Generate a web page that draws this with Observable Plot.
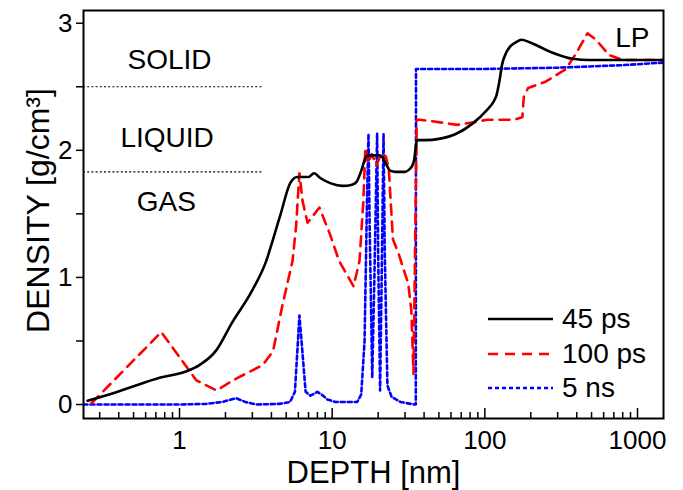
<!DOCTYPE html>
<html><head><meta charset="utf-8">
<script src="https://cdn.jsdelivr.net/npm/d3@7"></script>
<script src="https://cdn.jsdelivr.net/npm/@observablehq/plot@0.6"></script>
<style>
body{margin:0;background:#fff;font-family:"Liberation Sans",Arial,sans-serif}
#wrap{position:relative;width:683px;height:490px}
#legend{position:absolute;left:488px;top:302px;font-size:28px;color:#000}
#legend .row{display:flex;align-items:center;height:34.5px}
#legend svg{margin-right:9px}
</style></head><body><div id="wrap"></div>
<script>
// ---- data ----
const depth45 = [0.25,0.35,0.49,0.74,1.1,1.35,1.75,2.2,3.0,3.7,4.1,4.6,5.3,5.9,6.5,7.0,7.6,8.4,9.8,11.7,13.5,14.4,15.3,15.8,16.5,17.2,20.4,21.5,22.6,24,26,30,32,33.5,34.5,35.5,36,41,50,65,83,102,115,119,124,130,137,145,160,174,205,275,375,485,1480];
const density45 = [0.03,0.08,0.14,0.21,0.26,0.31,0.43,0.64,0.9,1.13,1.3,1.5,1.74,1.79,1.79,1.79,1.82,1.78,1.74,1.72,1.73,1.75,1.82,1.87,1.94,1.96,1.96,1.94,1.89,1.84,1.83,1.83,1.85,1.88,1.93,2.05,2.08,2.08,2.09,2.13,2.21,2.31,2.39,2.43,2.53,2.68,2.76,2.81,2.85,2.87,2.84,2.77,2.72,2.71,2.71];

const depth100 = [0.265,0.76,1.29,1.75,2.23,3.5,4.1,4.7,5.5,5.8,6.1,6.4,6.9,8.25,9.6,11.1,12.5,13.8,15.1,16.0,16.5,17.2,18.2,19.5,21.0,22.5,23.5,25,27,31.5,33,34.1,35.8,37.7,51,66,84,103,126,154,176,180,192,250,340,395,470,535,650,800,1480];
const density100 = [0.01,0.57,0.19,0.11,0.19,0.31,0.42,0.77,1.13,1.4,1.82,1.6,1.43,1.55,1.35,1.13,1.02,0.93,1.13,1.6,2.02,1.9,1.97,1.88,1.98,1.95,1.85,1.3,1.2,0.95,0.74,0.24,2.24,2.24,2.22,2.2,2.22,2.24,2.24,2.24,2.26,2.42,2.49,2.54,2.64,2.76,2.92,2.87,2.75,2.71,2.71];

const depth5ns = [0.235,0.5,1.0,1.5,1.9,2.35,2.7,3.2,4.5,5.3,5.7,6.0,6.1,6.3,6.7,7.2,8.0,8.5,9.3,10.5,14.6,15.5,16.3,16.9,17.3,17.6,18.3,18.9,19.7,20.0,20.6,21.1,21.7,22.1,23.0,24.5,28,34.5,35.3,35.4,100,300,800,1480];
const density5ns = [0,0,0,0.005,0.02,0.05,0.02,0,0.005,0.02,0.1,0.55,0.7,0.5,0.1,0.07,0.1,0.08,0.04,0.02,0.02,0.08,0.5,1.6,2.13,1.4,0.21,1.0,2.13,1.2,0.11,1.0,2.13,1.2,0.15,0.06,0.02,0,0,2.64,2.64,2.65,2.67,2.69];

const phaseNames = ["SOLID","LIQUID","GAS"];
const phaseNameDepth = [0.86,0.83,0.82];
const phaseNameDensity = [2.71,2.10,1.59];
const phaseBoundaries = [2.5,1.83];
const boundaryEnd = 3.5;
const cornerLabel = {text:"LP", depth:926, density:2.88};

const xTicks = [1,10,100,1000];
const xMinor = [0.3,0.4,0.5,0.6,0.7,0.8,0.9,2,3,4,5,6,7,8,9,20,30,40,50,60,70,80,90,200,300,400,500,600,700,800,900];
const yTicks = [0,0.5,1,1.5,2,2.5,3];

const seriesNames = ["45 ps","100 ps","5 ns"];
const seriesColors = ["#000000","#ff0000","#0000ff"];
const seriesDash = [null,"10,7","4,3"];

const toRows = (xs, ys) => xs.map((d,i)=>({depth:d, density:ys[i]}));
const s45 = toRows(depth45, density45);
const s100 = toRows(depth100, density100);
const s5 = toRows(depth5ns, density5ns);
const phases = phaseNames.map((n,i)=>({name:n, depth:phaseNameDepth[i], density:phaseNameDensity[i]}));

const chart = Plot.plot({
  width: 683, height: 490,
  marginLeft: 83, marginRight: 20, marginTop: 10, marginBottom: 72,
  style: {fontFamily: "'Liberation Sans', Arial, sans-serif", color: "#000", background: "#fff"},
  x: {type: "log", domain: [0.235, 1480]},
  y: {domain: [-0.11, 3.1]},
  marks: [
    Plot.ruleY(phaseBoundaries, {y: d=>d, x1: 0.235, x2: boundaryEnd, stroke: "#000", strokeWidth: 1.2, strokeDasharray: "2,2.2"}),
    Plot.text(phases, {x: "depth", y: "density", text: "name", fontSize: 28, lineAnchor: "middle", fill: "#000"}),
    Plot.text([cornerLabel], {x: "depth", y: "density", text: "text", fontSize: 28, lineAnchor: "middle", fill: "#000"}),
    Plot.line(s5, {x: "depth", y: "density", stroke: seriesColors[2], strokeWidth: 2.6, strokeDasharray: seriesDash[2], clip: true}),
    Plot.line(s100, {x: "depth", y: "density", stroke: seriesColors[1], strokeWidth: 2.6, strokeDasharray: seriesDash[1], clip: true}),
    Plot.line(s45, {x: "depth", y: "density", stroke: seriesColors[0], strokeWidth: 2.6, curve: "monotone-x", clip: true}),
    Plot.axisY({ticks: yTicks, tickFormat: d => Number.isInteger(d) ? String(d) : "", tickSize: 7, tickPadding: 4, fontSize: 26, label: null, strokeWidth: 1.5}),
    Plot.axisX({ticks: xTicks, tickFormat: d => String(d), tickSize: 0, tickPadding: 12, fontSize: 26, label: null}),
    Plot.axisX({ticks: xTicks, tickSize: 10, dy: -10, text: null, label: null, strokeWidth: 1.5}),
    Plot.axisX({ticks: xMinor, tickSize: 6, dy: -6, text: null, label: null, strokeWidth: 1.5}),
    Plot.text(["DEPTH [nm]"], {frameAnchor: "bottom", dy: 64, lineAnchor: "bottom", fontSize: 31, fill: "#000"}),
    Plot.text(["DENSITY [g/cm³]"], {frameAnchor: "left", textAnchor: "middle", dx: -35, dy: -4, rotate: -90, lineAnchor: "bottom", fontSize: 32, fill: "#000"}),
    Plot.frame({stroke: "#000", strokeWidth: 2})
  ]
});
const wrap = document.getElementById("wrap");
wrap.appendChild(chart);

const legend = d3.select(wrap).append("div").attr("id","legend");
seriesNames.forEach((n,i)=>{
  const row = legend.append("div").attr("class","row");
  const svg = row.append("svg").attr("width",65).attr("height",10);
  svg.append("line").attr("x1",0).attr("x2",65).attr("y1",5).attr("y2",5)
    .attr("stroke",seriesColors[i]).attr("stroke-width",2.6)
    .attr("stroke-dasharray",seriesDash[i]);
  row.append("span").text(n);
});
</script>
</body></html>
